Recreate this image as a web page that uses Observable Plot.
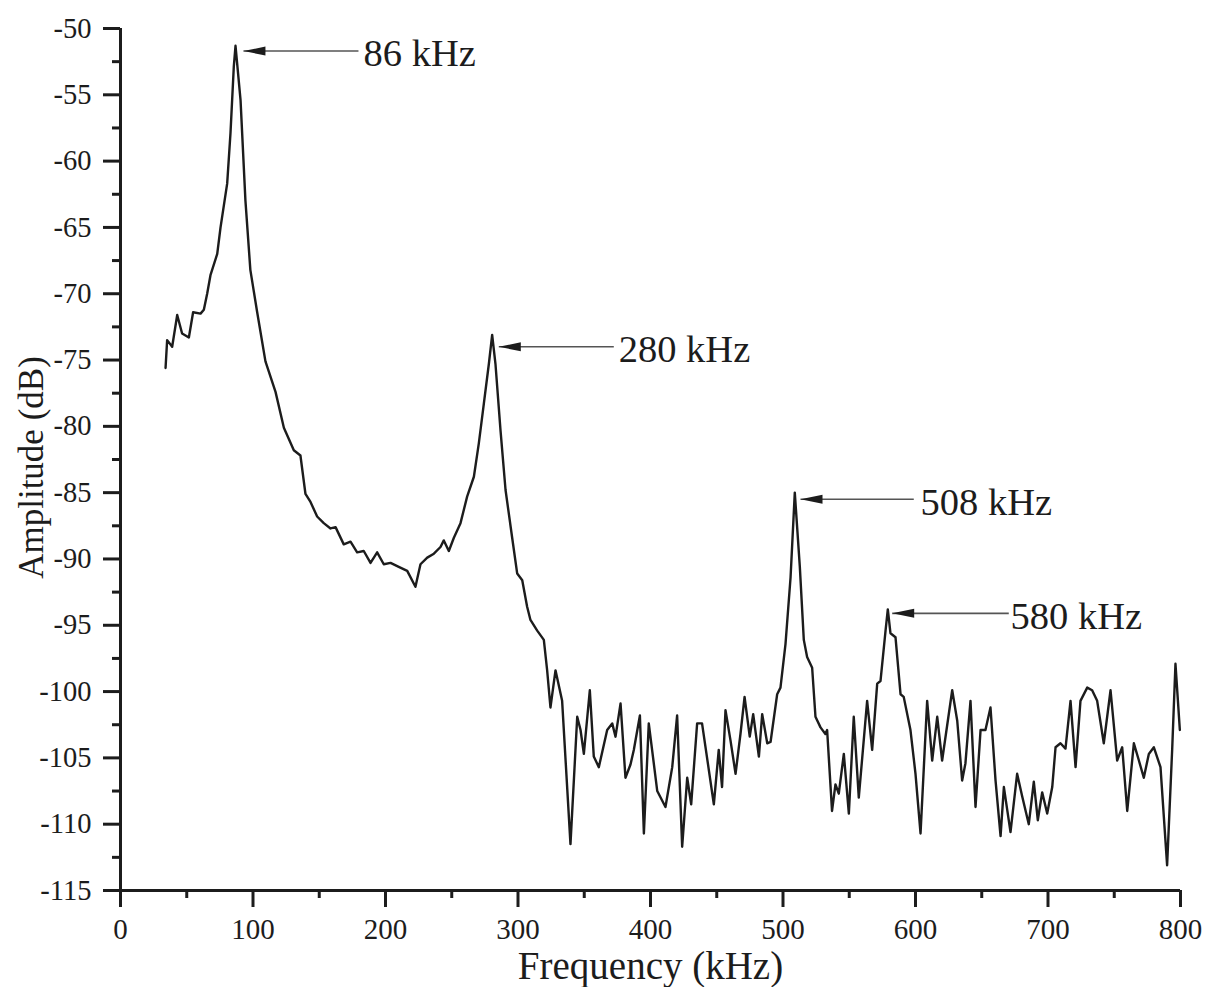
<!DOCTYPE html>
<html>
<head>
<meta charset="utf-8">
<script src="https://cdn.jsdelivr.net/npm/d3@7"></script>
<script src="https://cdn.jsdelivr.net/npm/@observablehq/plot@0.6"></script>
<style>
  html, body { margin: 0; padding: 0; background: #fff; }
  #chart svg { display: block; }
</style>
</head>
<body>
<div id="chart"></div>
<script>
const frequency = [34,35.2,39,42.8,46.5,51.6,54.8,60.4,62.9,65.4,67.9,73,75.5,80.5,83,85.5,86.8,90.6,94.3,98,103,109.4,117,123.3,130.8,135.8,139.6,143.4,148.4,153.4,158.5,162.3,168.5,173.6,178.6,183.6,188.7,193.7,198.7,203.8,210,216.4,222.6,226.4,231.5,236.5,241.5,244,247.8,251.6,256.6,261.6,266.7,270.4,274.2,278,280.5,283,286.8,290.6,295.6,299.4,303.2,306.9,309.4,314.5,319.5,322,324.5,328.3,333.3,339.6,344.7,347.2,349.7,354.2,357.2,361,367.3,371.1,373.6,377.4,381.1,384.9,387.4,392,395,398.7,405.1,411.3,416.4,420.1,423.9,427.7,430.7,435.2,438.9,447.8,451.5,454,456.6,460.4,464.2,467.9,471,474.9,477.5,481.8,484.3,488.1,490.6,495.6,498.1,501.9,505.7,508.9,512.7,515.7,518.2,522,524.5,528.3,532,533.3,537,539.6,542.1,545.9,549.7,553.4,557.2,563.5,567.3,571.1,573.6,577.4,579.1,581.1,584.9,588.7,591.1,596.2,600,603.8,608.8,612.6,616.4,620.1,627.7,631.5,635.2,637.7,641.5,645.3,649.1,652.8,656.6,660.4,664.2,666.7,671.7,676.7,680.5,685.5,689.3,692.3,695.6,699.4,703.2,705.7,709.4,713.2,717,720.8,724.5,729.6,733.3,737.1,742.1,747.2,752.2,756,759.8,764.8,768.6,772.3,776.1,779.9,784.9,789.9,793.7,796.2,799.5];
const amplitude = [-75.6,-73.5,-74.0,-71.6,-73.0,-73.3,-71.4,-71.5,-71.2,-70.0,-68.6,-67.0,-65.0,-61.7,-57.9,-52.9,-51.3,-55.4,-63.0,-68.2,-71.3,-75.1,-77.4,-80.1,-81.8,-82.2,-85.1,-85.7,-86.8,-87.3,-87.7,-87.6,-88.9,-88.7,-89.5,-89.4,-90.3,-89.5,-90.4,-90.3,-90.6,-90.9,-92.1,-90.4,-89.9,-89.6,-89.1,-88.6,-89.4,-88.4,-87.3,-85.3,-83.8,-81.3,-78.3,-75.3,-73.1,-75.3,-80.3,-84.8,-88.4,-91.1,-91.6,-93.6,-94.6,-95.4,-96.1,-98.4,-101.2,-98.4,-100.7,-111.5,-101.9,-102.9,-104.7,-99.9,-104.9,-105.7,-102.9,-102.4,-103.4,-100.9,-106.5,-105.5,-104.4,-101.8,-110.7,-102.4,-107.5,-108.7,-105.7,-101.8,-111.7,-106.5,-108.5,-102.4,-102.4,-108.5,-104.4,-107.2,-101.4,-103.7,-106.2,-103.2,-100.4,-103.4,-101.7,-104.9,-101.7,-103.9,-103.8,-100.2,-99.7,-96.4,-91.4,-85.0,-90.6,-96.1,-97.4,-98.2,-101.9,-102.7,-103.2,-102.9,-109.0,-107.0,-107.7,-104.7,-109.2,-101.9,-108.0,-100.7,-104.4,-99.4,-99.2,-95.4,-93.8,-95.6,-95.9,-100.2,-100.4,-102.9,-106.2,-110.7,-100.7,-105.2,-101.9,-105.2,-99.9,-102.2,-106.7,-105.4,-100.7,-108.7,-102.9,-102.9,-101.2,-106.7,-110.9,-107.2,-110.6,-106.2,-107.9,-110.0,-106.8,-109.7,-107.6,-109.2,-107.2,-104.2,-103.9,-104.3,-100.7,-105.7,-100.7,-99.7,-99.9,-100.7,-103.9,-99.9,-105.2,-104.2,-109.0,-103.9,-105.2,-106.5,-104.7,-104.2,-105.7,-113.1,-104.4,-97.9,-102.9];

// Axis ticks
const xTicks = [0,100,200,300,400,500,600,700,800];
const xMinorTicks = [50,150,250,350,450,550,650,750];
const yTicks = [-50,-55,-60,-65,-70,-75,-80,-85,-90,-95,-100,-105,-110,-115];
const yMinorTicks = [-52.5,-57.5,-62.5,-67.5,-72.5,-77.5,-82.5,-87.5,-92.5,-97.5,-102.5,-107.5,-112.5];

// Peak annotations
const peakLabels = ["86 kHz","280 kHz","508 kHz","580 kHz"];
const arrowTipFreq = [92.8, 285.5, 513.2, 582.4];
const arrowTailFreq = [179.6, 372.3, 598.7, 670.4];
const arrowAmp = [-51.7, -74.0, -85.5, -94.1];
const labelFreq = [183.4, 376.0, 603.8, 671.7];

const spectrum = frequency.map((f, i) => ({f, a: amplitude[i]}));
const notes = peakLabels.map((label, i) => ({
  label, tip: arrowTipFreq[i], tail: arrowTailFreq[i], a: arrowAmp[i], tx: labelFreq[i]
}));

const arrowHead = {
  draw(ctx) {
    ctx.moveTo(0, 0);
    ctx.lineTo(22, -4.5);
    ctx.lineTo(22, 4.5);
    ctx.closePath();
  }
};

const FONT = "'Liberation Serif', 'Times New Roman', serif";
const INK = "#1c1c1c";

const chart = Plot.plot({
  width: 1208,
  height: 987,
  marginTop: 28,
  marginRight: 28,
  marginBottom: 97,
  marginLeft: 120,
  style: {fontFamily: FONT, background: "#ffffff", color: INK},
  x: {domain: [0, 800]},
  y: {domain: [-115, -50]},
  marks: [
    Plot.axisX({ticks: xMinorTicks, tickSize: 8, strokeWidth: 3, tickFormat: () => "", label: null}),
    Plot.axisX({ticks: xTicks, tickSize: 17, tickPadding: 11, strokeWidth: 3, fontSize: 29, tickFormat: d => String(d), label: null}),
    Plot.axisY({ticks: yMinorTicks, tickSize: 8, strokeWidth: 3, tickFormat: () => "", label: null}),
    Plot.axisY({ticks: yTicks, tickSize: 17, tickPadding: 12, strokeWidth: 3, fontSize: 28.5, tickFormat: d => String(d), label: null}),
    Plot.ruleX([0], {stroke: INK, strokeWidth: 3}),
    Plot.ruleY([-115], {stroke: INK, strokeWidth: 3}),
    Plot.line(spectrum, {x: "f", y: "a", stroke: INK, strokeWidth: 2.4, strokeLinejoin: "round"}),
    Plot.link(notes, {x1: "tip", y1: "a", x2: "tail", y2: "a", stroke: "#555", strokeWidth: 1.6}),
    Plot.dot(notes, {x: "tip", y: "a", symbol: arrowHead, fill: INK, stroke: "none", r: 5}),
    Plot.text(notes, {x: "tx", y: "a", text: "label", textAnchor: "start", lineAnchor: "middle", dy: 3, fontSize: 38.5, fill: INK}),
    Plot.text(["Frequency (kHz)"], {frameAnchor: "bottom", textAnchor: "middle", lineAnchor: "middle", dy: 76, fontSize: 39, fill: INK}),
    Plot.text(["Amplitude (dB)"], {frameAnchor: "left", textAnchor: "middle", rotate: -90, lineAnchor: "middle", dx: -89, dy: 8, fontSize: 35, fill: INK})
  ]
});
document.getElementById("chart").appendChild(chart);
</script>
</body>
</html>
